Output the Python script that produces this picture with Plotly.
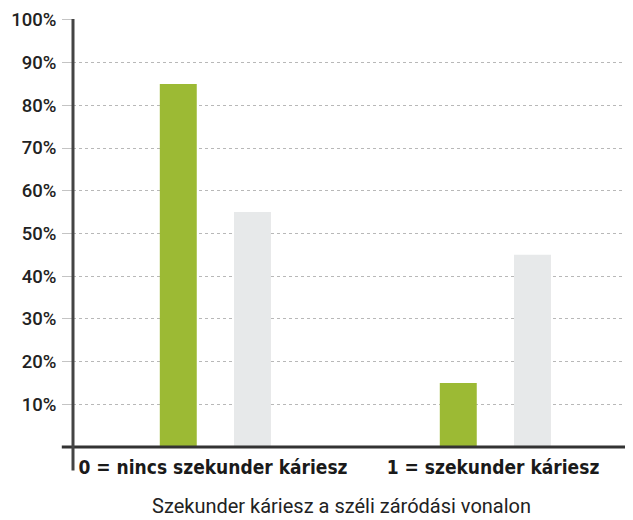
import plotly.graph_objects as go

categories = ["0 = nincs szekunder káriesz", "1 = szekunder káriesz"]
green_values = [85, 15]
gray_values = [55, 45]
y_ticks = [10, 20, 30, 40, 50, 60, 70, 80, 90, 100]
y_tick_labels = [f"{v}%" for v in y_ticks]
x_title = "Szekunder káriesz a széli záródási vonalon"

fig = go.Figure()
fig.add_trace(go.Bar(x=categories, y=green_values, marker_color="#9cba34",
                     marker_line_width=0, width=0.132, offset=-0.19, showlegend=False))
fig.add_trace(go.Bar(x=categories, y=gray_values, marker_color="#e7e9ea",
                     marker_line_width=0, width=0.132, offset=0.075, showlegend=False))

fig.update_layout(
    width=633, height=520,
    margin=dict(l=65, r=8, t=11, b=81),
    paper_bgcolor="white", plot_bgcolor="white",
    barmode="overlay",
    font=dict(family="Liberation Sans, Arial, sans-serif", color="#222"),
    xaxis=dict(
        type="category", range=[-0.5, 1.5], automargin=False,
        showgrid=False, showline=False, zeroline=False,
        ticks="", ticklabelstandoff=7,
        tickfont=dict(family="DejaVu Sans Condensed", size=19, color="#1a1a1a", weight="bold"),
    ),
    yaxis=dict(
        range=[0, 100.2], tickvals=y_ticks, ticktext=y_tick_labels, automargin=False,
        showgrid=True, gridcolor="#b8b8b8", griddash="dot", gridwidth=1,
        ticks="outside", ticklen=10, tickcolor="#c4c4c4", tickwidth=1,
        showline=False, zeroline=False, ticklabelstandoff=2, ticklabeloverflow="allow",
        tickfont=dict(family="Roboto, Liberation Sans", size=18.5, color="#222", weight=500),
    ),
)

fig.add_annotation(text=x_title, xref="paper", yref="paper", x=0.48, y=-0.139,
                   xanchor="center", yanchor="middle", showarrow=False,
                   font=dict(family="Roboto, Liberation Sans", size=20, color="#222"))

# axis lines (style shapes extending beyond the plot area like the reference)
fig.add_shape(type="line", xref="paper", yref="paper", x0=-0.02, x1=1, y0=0, y1=0,
              line=dict(color="#333", width=3))
fig.add_shape(type="line", xref="paper", yref="paper", x0=0, x1=0, y0=-0.055, y1=1,
              line=dict(color="#444", width=3))

fig.write_html("out.html")
